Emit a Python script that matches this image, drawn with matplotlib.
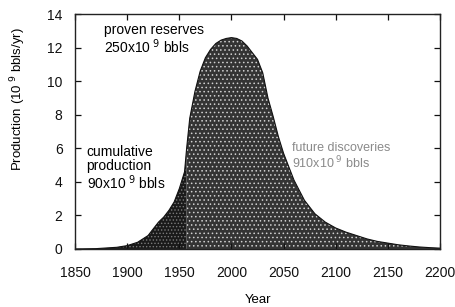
import matplotlib.pyplot as plt
import numpy as np

plt.rcParams['font.family'] = ['Liberation Sans', 'DejaVu Sans']
plt.rcParams['hatch.linewidth'] = 0.6

# curve (10^9 bbls/yr)
years = [1850, 1870, 1890, 1900, 1910, 1920, 1925, 1930, 1935, 1940, 1945, 1950,
         1955, 1957, 1960, 1965, 1970, 1975, 1980, 1985, 1990, 1995, 2000, 2005,
         2010, 2015, 2020, 2025, 2030, 2035, 2040, 2045, 2050, 2055, 2060, 2065,
         2070, 2075, 2080, 2090, 2100, 2110, 2120, 2130, 2140, 2150, 2160, 2170,
         2180, 2190, 2200]
production = [0.0, 0.02, 0.1, 0.2, 0.4, 0.8, 1.2, 1.6, 1.9, 2.3, 2.8, 3.6,
              4.6, 6.0, 7.8, 9.4, 10.6, 11.4, 11.9, 12.25, 12.45, 12.55, 12.6, 12.55,
              12.4, 12.1, 11.7, 11.3, 10.5, 9.0, 7.9, 6.7, 5.7, 4.9, 4.1, 3.5,
              2.9, 2.5, 2.1, 1.6, 1.25, 1.0, 0.8, 0.6, 0.45, 0.35, 0.25, 0.18,
              0.12, 0.08, 0.05]
split_year = 1957

years = np.array(years)
production = np.array(production)

fig = plt.figure(figsize=(4.55, 3.07), dpi=100)
ax = fig.add_axes([0.165, 0.189, 0.802, 0.765])

past = years <= split_year
future = years >= split_year
ax.fill_between(years[past], 0, production[past], facecolor='#1a1a1a',
                edgecolor='#7a7a7a', hatch='.....', linewidth=0)
ax.fill_between(years[future], 0, production[future], facecolor='#343434',
                edgecolor='#d0d0d0', hatch='....', linewidth=0)
ax.plot(years, production, color='#111111', lw=0.8)

ax.set_xlim(1850, 2200)
ax.set_ylim(0, 14)
ax.set_xticks(np.arange(1850, 2201, 50))
ax.set_yticks(np.arange(0, 15, 2))
ax.tick_params(direction='in', top=True, right=True, length=4, width=0.9,
               labelsize=10, colors='#111111')
ax.tick_params(axis='x', pad=12)
ax.tick_params(axis='y', pad=9)
for s in ax.spines.values():
    s.set_linewidth(1.0)
    s.set_color('#222222')

ax.set_xlabel('Year', fontsize=9.5, labelpad=10)
ax.set_ylabel('Production (10$^{\\ 9}$ bbls/yr)', fontsize=9.5)
ax.yaxis.set_label_coords(-0.13, 0.64)

ax.text(1878, 12.5, 'proven reserves\n250x10$^{\\ 9}$ bbls', fontsize=10,
        va='center', ha='left', linespacing=1.0)
ax.text(1861, 4.8, 'cumulative\nproduction\n90x10$^{\\ 9}$ bbls', fontsize=10,
        va='center', ha='left', linespacing=1.0)
ax.text(2058, 5.5, 'future discoveries\n910x10$^{\\ 9}$ bbls', fontsize=9,
        va='center', ha='left', linespacing=1.1, color='#8a8a8a')

fig.savefig('out.png', dpi=100)
